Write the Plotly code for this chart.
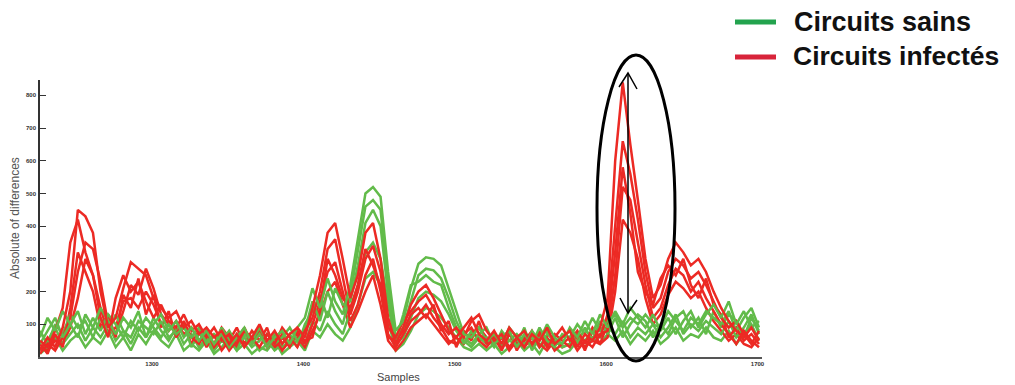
import plotly.graph_objects as go

# ---------------- data ----------------
samples = list(range(1226, 1706, 5))  # 96 sample positions

red_1 = [20, 60, 30, 90, 200, 450, 430, 380, 200, 90,
         120, 210, 290, 270, 250, 180, 150, 120, 140, 90,
         110, 70, 90, 60, 80, 40, 70, 30, 60, 100,
         50, 80, 40, 70, 90, 60, 150, 250, 380, 410,
         300, 180, 250, 380, 410, 300, 120, 40, 90, 160,
         200, 220, 180, 130, 80, 60, 90, 120, 70, 50,
         80, 40, 90, 60, 30, 70, 50, 90, 40, 60,
         80, 30, 70, 50, 90, 180, 600, 840, 650, 480,
         300, 180, 220, 300, 350, 320, 280, 300, 260, 200,
         150, 110, 80, 60, 90, 50]
red_2 = [50, 30, 80, 150, 350, 420, 320, 250, 120, 60,
         180, 250, 200, 230, 170, 120, 160, 110, 90, 130,
         80, 100, 60, 90, 50, 70, 40, 80, 60, 30,
         70, 40, 90, 60, 30, 80, 120, 200, 330, 360,
         240, 130, 200, 300, 340, 260, 90, 60, 110, 140,
         170, 190, 150, 100, 70, 90, 60, 110, 130, 80,
         50, 70, 30, 60, 80, 40, 70, 30, 60, 90,
         50, 80, 40, 90, 60, 130, 400, 660, 560, 420,
         260, 150, 180, 260, 300, 280, 240, 260, 220, 170,
         120, 90, 110, 70, 40, 80]
red_3 = [10, 40, 20, 60, 120, 260, 350, 330, 230, 100,
         70, 140, 220, 190, 270, 210, 130, 100, 70, 110,
         60, 40, 80, 30, 60, 20, 50, 90, 40, 70,
         30, 60, 20, 50, 70, 40, 100, 170, 260, 290,
         200, 110, 160, 250, 300, 200, 70, 30, 70, 110,
         130, 160, 120, 90, 50, 40, 70, 90, 50, 30,
         60, 20, 70, 40, 50, 80, 30, 60, 20, 40,
         60, 20, 50, 30, 70, 80, 250, 520, 480, 350,
         220, 120, 150, 220, 270, 250, 200, 230, 180, 140,
         100, 70, 40, 80, 50, 30]
red_4 = [30, 20, 50, 40, 90, 180, 300, 250, 150, 70,
         90, 170, 180, 150, 200, 160, 100, 80, 110, 70,
         90, 50, 70, 40, 90, 60, 30, 70, 50, 80,
         40, 30, 70, 40, 60, 30, 80, 130, 200, 230,
         160, 90, 140, 200, 250, 160, 50, 20, 50, 90,
         110, 130, 100, 70, 40, 60, 40, 70, 90, 60,
         40, 60, 20, 50, 30, 60, 40, 20, 50, 30,
         40, 60, 30, 50, 40, 60, 200, 420, 380, 300,
         180, 100, 130, 190, 230, 210, 180, 200, 150, 110,
         80, 50, 70, 40, 30, 60]
red_5 = [40, 10, 70, 30, 150, 320, 260, 200, 90, 130,
         60, 190, 150, 240, 130, 190, 90, 140, 60, 100,
         40, 80, 30, 70, 20, 50, 90, 40, 80, 50,
         90, 20, 60, 30, 80, 50, 60, 150, 300, 250,
         180, 150, 220, 330, 280, 220, 60, 50, 80, 130,
         150, 120, 160, 80, 110, 30, 80, 50, 110, 40,
         70, 30, 80, 20, 60, 30, 80, 40, 70, 50,
         30, 70, 20, 80, 40, 100, 320, 580, 440, 260,
         200, 160, 240, 280, 250, 300, 220, 180, 240, 160,
         130, 60, 90, 50, 70, 40]

green_1 = [60, 120, 80, 140, 100, 60, 130, 90, 150, 110,
           70, 120, 90, 140, 60, 100, 130, 80, 110, 60,
           90, 50, 80, 40, 70, 30, 60, 90, 40, 70,
           30, 60, 80, 40, 90, 120, 210, 150, 240, 170,
           130, 220, 360, 500, 520, 490, 260, 80, 110, 210,
           285, 305, 300, 280, 210, 140, 70, 60, 90, 50,
           70, 40, 90, 60, 30, 80, 50, 100, 60, 40,
           90, 60, 110, 70, 130, 90, 140, 100, 150, 120,
           90, 130, 80, 120, 70, 110, 140, 90, 130, 160,
           120, 170, 100, 140, 90, 110]
green_2 = [40, 80, 120, 60, 100, 140, 70, 120, 80, 130,
           100, 60, 110, 80, 120, 90, 60, 100, 70, 90,
           60, 90, 40, 70, 50, 80, 40, 60, 30, 50,
           70, 40, 60, 90, 50, 80, 170, 110, 200, 140,
           100, 190, 320, 460, 480, 450, 220, 60, 90, 170,
           250, 270, 265, 240, 180, 110, 60, 40, 70, 90,
           40, 60, 80, 30, 70, 40, 90, 50, 30, 70,
           60, 100, 70, 120, 80, 110, 130, 90, 120, 100,
           130, 100, 90, 140, 110, 80, 120, 100, 140, 120,
           100, 140, 80, 120, 150, 90]
green_3 = [20, 50, 90, 40, 70, 100, 50, 90, 60, 100,
           50, 80, 40, 90, 60, 120, 80, 50, 90, 40,
           70, 30, 60, 20, 50, 30, 70, 40, 60, 20,
           40, 70, 30, 50, 70, 40, 110, 80, 140, 100,
           70, 140, 220, 320, 350, 300, 160, 40, 60, 120,
           180, 200, 190, 170, 130, 80, 50, 30, 60, 40,
           60, 30, 50, 70, 40, 60, 30, 70, 50, 30,
           40, 70, 50, 80, 60, 90, 70, 110, 60, 90,
           70, 100, 60, 90, 130, 70, 100, 80, 110, 90,
           70, 110, 60, 90, 130, 70]
green_4 = [10, 30, 60, 20, 50, 70, 30, 60, 40, 80,
           30, 60, 20, 70, 40, 80, 50, 30, 70, 20,
           40, 20, 50, 10, 30, 60, 20, 40, 10, 30,
           20, 50, 10, 30, 50, 20, 80, 60, 100, 70,
           50, 90, 160, 240, 260, 220, 110, 20, 40, 80,
           130, 150, 140, 120, 90, 60, 30, 20, 40, 20,
           40, 10, 30, 50, 20, 40, 10, 50, 30, 10,
           20, 50, 30, 60, 40, 70, 50, 80, 40, 70,
           50, 80, 40, 60, 90, 50, 70, 60, 90, 60,
           50, 80, 40, 70, 100, 50]
green_5 = [80, 40, 100, 70, 130, 90, 110, 60, 120, 70,
           130, 80, 60, 110, 90, 70, 110, 60, 80, 100,
           30, 70, 60, 30, 90, 50, 20, 70, 50, 90,
           50, 20, 40, 70, 30, 100, 140, 190, 120, 210,
           160, 170, 280, 410, 450, 400, 190, 50, 130, 220,
           230, 250, 230, 220, 150, 90, 40, 80, 50, 60,
           30, 80, 50, 40, 90, 20, 60, 80, 40, 60,
           80, 40, 90, 50, 110, 70, 120, 60, 100, 130,
           110, 60, 100, 70, 120, 140, 90, 120, 70, 140,
           90, 130, 110, 60, 120, 80]

x_ticks = [1300, 1400, 1500, 1600, 1700]
y_ticks = [100, 200, 300, 400, 500, 600, 700, 800]
legend_names = ["Circuits sains", "Circuits infectés"]

# ---------------- style / layout ----------------
# the page body has an 8 px margin; positions below are given in window pixels
OFF = 8
W, H = 1015 - OFF, 385 - OFF
PLOT_L, PLOT_R, PLOT_T, PLOT_B = 40, 762, 80, 357   # window pixels
ML, MR = PLOT_L - OFF, W - (PLOT_R - OFF)
MT, MB = PLOT_T - OFF, H - (PLOT_B - OFF)
PW, PH = PLOT_R - PLOT_L, PLOT_B - PLOT_T

def px2x(px):
    return (px - PLOT_L) / PW

def px2y(py):
    return (PLOT_B - py) / PH

RED = "#ec2a24"
GREEN = "#62bb4a"

fig = go.Figure()
order = [(green_4, GREEN), (red_4, RED), (green_3, GREEN), (red_5, RED),
         (green_5, GREEN), (red_3, RED), (green_2, GREEN), (red_2, RED),
         (green_1, GREEN), (red_1, RED)]
for ys, col in order:
    fig.add_trace(go.Scatter(x=samples, y=ys, mode="lines",
                             line=dict(color=col, width=2.5),
                             showlegend=False, hoverinfo="skip"))

shapes = [
    # ellipse
    dict(type="circle", xref="paper", yref="paper",
         x0=px2x(597), x1=px2x(675), y0=px2y(361), y1=px2y(55),
         line=dict(color="black", width=3)),
    # double arrow
    dict(type="line", xref="paper", yref="paper",
         x0=px2x(628), x1=px2x(628), y0=px2y(73), y1=px2y(313),
         line=dict(color="black", width=1.5)),
    dict(type="path", xref="paper", yref="paper",
         path=f"M {px2x(619)} {px2y(87)} L {px2x(628)} {px2y(73)} L {px2x(637)} {px2y(89)}",
         line=dict(color="black", width=1.5)),
    dict(type="path", xref="paper", yref="paper",
         path=f"M {px2x(620)} {px2y(298)} L {px2x(628)} {px2y(313)} L {px2x(637)} {px2y(300)}",
         line=dict(color="black", width=1.5)),
    # legend lines
    dict(type="line", xref="paper", yref="paper",
         x0=px2x(735), x1=px2x(776), y0=px2y(22), y1=px2y(22),
         line=dict(color="#23a34e", width=5)),
    dict(type="line", xref="paper", yref="paper",
         x0=px2x(735), x1=px2x(776), y0=px2y(57), y1=px2y(57),
         line=dict(color="#d8243a", width=5)),
]

annotations = [
    dict(text=legend_names[0], xref="paper", yref="paper", x=px2x(792), y=px2y(22),
         xanchor="left", yanchor="middle", showarrow=False,
         font=dict(family="Liberation Sans, Arial", size=27, color="#111111", weight="bold")),
    dict(text=legend_names[1], xref="paper", yref="paper", x=px2x(791), y=px2y(56),
         xanchor="left", yanchor="middle", showarrow=False,
         font=dict(family="Liberation Sans, Arial", size=26.5, color="#111111", weight="bold")),
    dict(text="Absolute of differences", xref="paper", yref="paper", x=px2x(15), y=px2y(218),
         xanchor="center", yanchor="middle", textangle=-90, showarrow=False,
         font=dict(family="Liberation Sans, Arial", size=12, color="#555555")),
    dict(text="Samples", xref="paper", yref="paper", x=px2x(398), y=px2y(377),
         xanchor="center", yanchor="middle", showarrow=False,
         font=dict(family="Liberation Sans, Arial", size=11, color="#444444")),
]

fig.update_layout(
    width=W, height=H,
    margin=dict(l=ML, r=MR, t=MT, b=MB, pad=0),
    paper_bgcolor="white", plot_bgcolor="white",
    showlegend=False,
    shapes=shapes, annotations=annotations,
    xaxis=dict(range=[1226, 1703], tickvals=x_ticks, ticktext=[str(v) for v in x_ticks],
               showgrid=False, zeroline=False, showline=True, linecolor="#555555", linewidth=1.5,
               ticks="", tickfont=dict(size=6, color="#333333", family="Liberation Sans, Arial", weight="bold")),
    yaxis=dict(range=[0, 847], tickvals=y_ticks, ticktext=[str(v) for v in y_ticks],
               showgrid=False, zeroline=False, showline=True, linecolor="#333333", linewidth=1.5,
               ticks="inside", ticklen=6, tickcolor="#333333", ticklabelstandoff=1,
               tickfont=dict(size=6, color="#333333", family="Liberation Sans, Arial", weight="bold")),
)

fig.write_html("out.html")
